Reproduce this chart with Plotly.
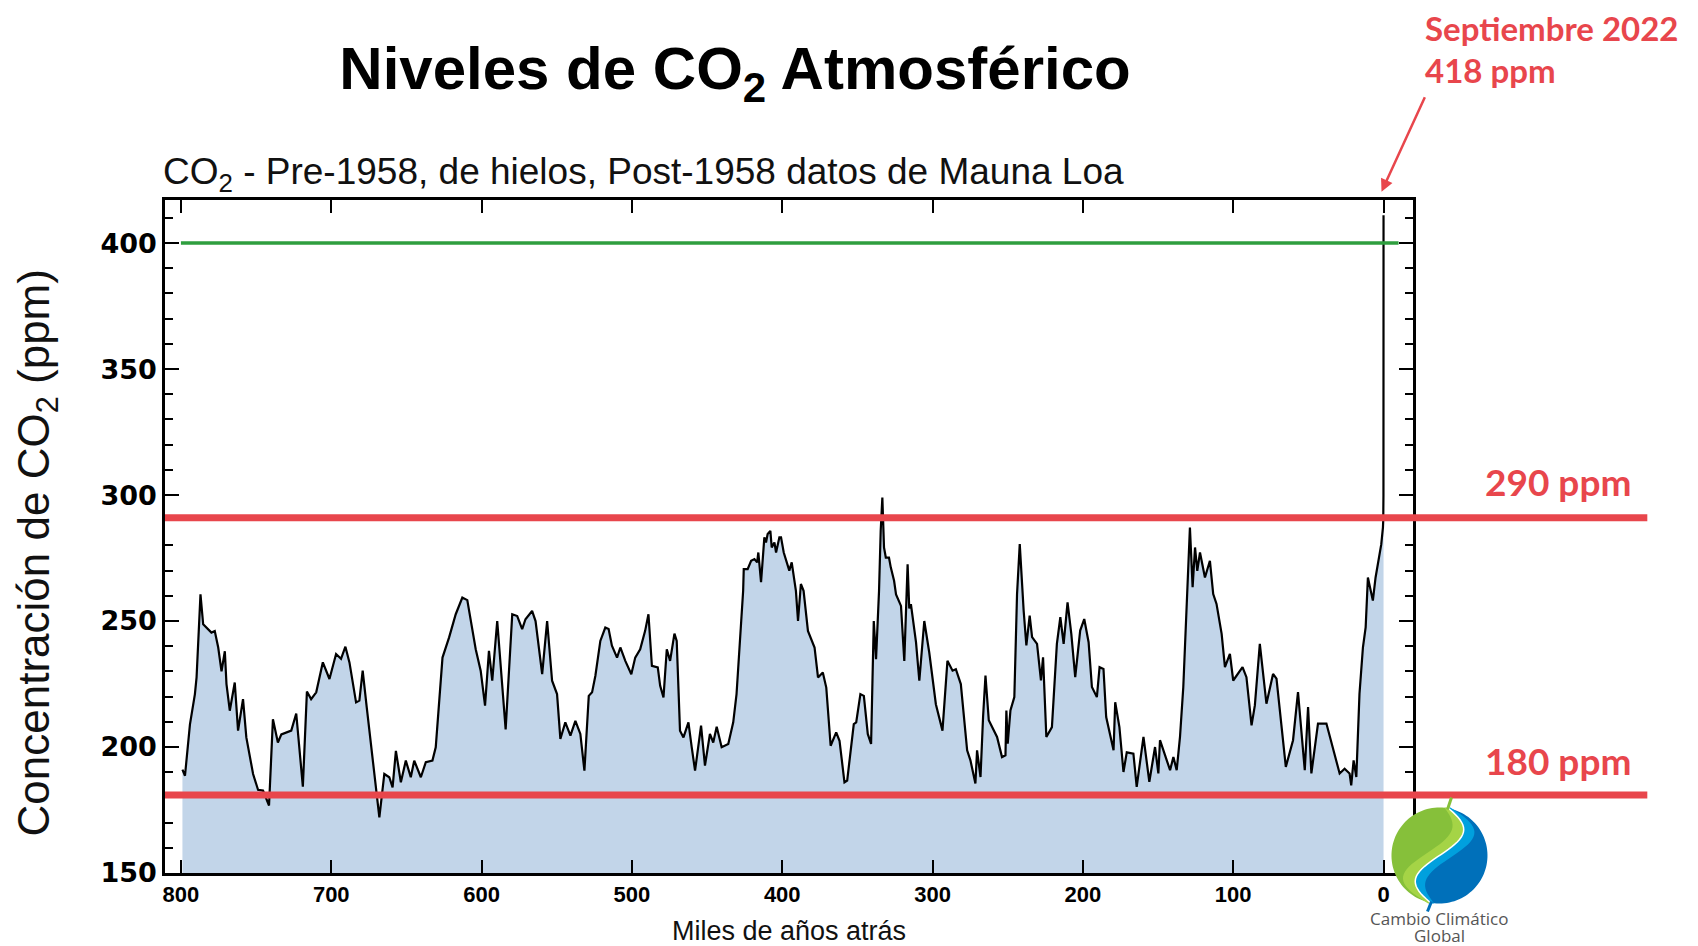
import numpy as np
import plotly.graph_objects as go

# ---------------- data (thousands of years ago, ppm) ----------------
ky_ago = [
    799, 797.3, 794, 790.7, 789.6, 787, 785.2, 783, 779.7, 777.5, 775.2, 773, 770.8, 769.7,
    767.5, 764.2, 762, 758.7, 756.5, 752, 748.7, 745.4, 741.4, 738.8, 735.5, 733.2, 726.6,
    723.3, 718.9, 716.2, 713.4, 710, 705.6, 701.2, 696.8, 693.5, 690.6, 687.9, 683.5, 681.3,
    679.1, 676.4, 672.5, 668, 664.7, 661.4, 659.2, 657, 653.7, 650.4, 647.1, 644.8, 640.4,
    637.1, 632.7, 630.5, 626, 621.6, 617.2, 612.8, 609.5, 603.9, 600.6, 597.7, 595.1, 592.9,
    589.6, 584, 579.6, 576.3, 573, 570.8, 566.4, 564.1, 559.7, 556.4, 553.1, 549.8, 547.6,
    544.3, 540.9, 537.6, 534.3, 531.6, 528.7, 526.5, 524.3, 521, 517.7, 515.5, 513.3, 509.9,
    507.7, 504.4, 500.4, 497.8, 494.5, 491.2, 489, 486.7, 482.8, 481.2, 479, 476.8, 474.6,
    471.7, 470.2, 468, 465.7, 462.4, 460.2, 458, 454, 451.4, 448.1, 445.9, 443.6, 440.3,
    435.9, 432.6, 430.4, 427, 426, 425.6, 423, 420.7, 418.5, 416.7, 415.9, 414.1, 411.9,
    410.8, 409.7, 407.9, 407, 405.2, 404.1, 401.9, 400.8, 399, 397.5, 395.3, 393.7, 392,
    390.9, 389.5, 387.6, 385.8, 382.9, 378.5, 376.2, 373, 370.7, 367.8, 364.1, 361.9, 358.6,
    356.8, 352.4, 350.8, 348, 345.7, 343.1, 340.9, 339.1, 337.6, 335.6, 334.5, 333.4, 332.3,
    331.1, 329, 327.8, 325.6, 324.3, 321, 318.8, 316.6, 315.5, 314.4, 311, 308.8, 305.5,
    302.2, 297.8, 293.4, 290.1, 286.7, 284.5, 281.2, 277, 274.8, 271.5, 270.4, 268.1, 266.4,
    264.8, 262.6, 260.4, 257.1, 253.8, 251.5, 250.9, 250, 248.2, 245.6, 243.8, 242, 239.4,
    237.6, 235.4, 233.8, 230.5, 227.9, 226.5, 224.3, 220.6, 217.3, 215, 212.8, 210.2, 207.7,
    205.1, 201.8, 199.1, 196.2, 194, 190.7, 188.9, 186.3, 184.5, 179.6, 178.5, 175.7, 173,
    170.8, 166.4, 164.2, 159.7, 155.8, 152, 149.8, 148.7, 142, 139.8, 137.6, 135.4, 133.2,
    128.8, 127, 125.4, 123.9, 122.1, 118.8, 115.5, 113.3, 111.1, 107.7, 105.5, 102.2, 100,
    93.8, 91.2, 87.8, 85.6, 82.3, 77.9, 73.5, 71.2, 65, 60.2, 56.9, 52.4, 50.2, 48, 43.6,
    38, 29.2, 25.9, 22.6, 21.5, 19.9, 18.1, 16, 13.7, 11.9, 10.4, 7.1, 5.3, 3.1, 1.5, 0.4,
    0.2, 0.05, 0.0,
]
co2_ppm = [
    191, 188.6, 209, 221, 227.6, 260.6, 248.7, 247.4, 245.4, 246, 239.5, 230, 238, 225,
    214.4, 225.6, 206.5, 219, 203.8, 189.3, 183, 182.7, 176.8, 211, 201.8, 205, 206.5,
    213.3, 184.3, 222, 219, 221.7, 233.6, 227, 236.9, 235, 239.8, 233.6, 217.7, 218.4,
    230.3, 215.7, 194.6, 172.1, 189.3, 188, 184, 198.5, 186, 194.6, 188, 194.6, 188,
    194, 194.6, 199.9, 235.5, 243.5, 252.7, 259.3, 258.3, 238.8, 230.3, 216.4, 238.2, 226.3,
    250, 207, 252.7, 252, 246.8, 250.7, 254, 250, 228.9, 250, 226.3, 221, 203.2,
    209.8, 204.5, 210.4, 205.2, 190.6, 220.3, 221.7, 228.3, 242.1, 247.4, 246.8, 240.2, 235.5,
    239.5, 234.2, 228.9, 235.5, 238.8, 246.1, 252.7, 232.2, 231.6, 224.3, 219.7, 238.8, 234.2,
    245, 242.1, 206.5, 203.8, 209.8, 199.9, 190.6, 208.5, 192.6, 205.2, 201.8, 208, 199.9,
    201.2, 209.8, 221, 250, 262, 270.6, 270.6, 273.9, 274.6, 273.3, 277.2, 265.4, 283.2,
    281.2, 284.5, 285.8, 279.2, 281.2, 277.2, 283.2, 283.2, 277.2, 273.9, 270, 273.3, 267.3,
    262, 250, 264.7, 262, 246.1, 239.5, 227.6, 229.6, 223.6, 200.5, 205.8, 202.5, 186,
    186.7, 209.1, 209.8, 221, 220.3, 205.2, 201.2, 250, 234.9, 262, 285.8, 299, 279.2,
    275.2, 275.2, 271.3, 266, 260.6, 256, 234.2, 272.5, 255, 256.7, 241.5, 226.3, 250,
    237.5, 217, 206.5, 234.2, 230.3, 230.9, 225, 198.7, 194.7, 185.5, 198.7, 188.1, 211.9,
    228.4, 210.6, 207.9, 204, 196, 196.7, 214.5, 201.3, 214.5, 219.8, 260.7, 280.5, 254.1,
    240.3, 252.1, 243.6, 240.9, 226.4, 235.6, 204, 207.9, 240.9, 251.5, 240.9, 257.4, 244.9,
    227.7, 246.2, 250.8, 241.6, 223.8, 219.8, 231.7, 231, 211.9, 198.7, 217.8, 207.9, 190.1,
    197.9, 197.4, 184.2, 204, 186.2, 200, 189.5, 202.7, 190.8, 196, 190.8, 204, 223.8,
    287.1, 263.4, 279.2, 269.9, 277.2, 267.3, 273.9, 260.7, 256.8, 244.9, 231.7, 237, 226.4,
    231.7, 227.7, 208.6, 216.5, 240.9, 217.2, 229, 227.1, 192.1, 202.7, 221.8, 190.8, 215.9, 189.5, 209.3,
    209.3, 189.5, 191.4, 189.5, 184.8, 194.7, 188.1, 221.1, 239.6, 247.5, 267.3, 258.1, 267.3, 275.2, 280.5, 287.1,
    290, 300, 411,
]

ref_levels = [181, 291]          # red reference lines (labelled 180 / 290 ppm)
ref_labels = ["180 ppm", "290 ppm"]
green_level = 400
x_ticks = [800, 700, 600, 500, 400, 300, 200, 100, 0]
y_ticks = [150, 200, 250, 300, 350, 400]

# ---------------- geometry helpers ----------------
# The page body has an 8px margin, so the figure starts at (8, 8) in the window.
OFF = 8
W, H = 1698 - OFF, 946 - OFF
FL, FR, FT, FB = 164.5, 1413.5, 200.3, 873     # plot frame in window pixels
ML, MT = FL - OFF, FT - OFF
MR, MB = (OFF + W) - FR, (OFF + H) - FB
PW, PH = FR - FL, FB - FT


def px(x):
    return (x - FL) / PW


def py(y):
    return (FB - y) / PH


RED = "rgb(232,70,76)"

fig = go.Figure()
fig.add_trace(go.Scatter(
    x=ky_ago, y=co2_ppm, mode="lines",
    line=dict(color="black", width=2.2),
    fill="tozeroy", fillcolor="rgb(194,213,233)",
    hoverinfo="x+y", showlegend=False,
))

shapes = []
shapes.append(dict(type="line", xref="x", yref="y", x0=800, x1=-10, y0=green_level, y1=green_level,
                   line=dict(color="rgb(46,158,62)", width=3.5), layer="above"))
for lv in ref_levels:
    shapes.append(dict(type="line", xref="paper", yref="y", x0=0, x1=px(1648), y0=lv, y1=lv,
                       line=dict(color=RED, width=7), layer="above"))

# ---------------- logo (decorative) ----------------
R = 48
cx, cy = px(1440), py(855.5)


def pathstr(pts):
    return "M " + " L ".join(f"{a:.2f},{b:.2f}" for a, b in pts) + " Z"


def s_curve(y):
    return 0.17 * y + 20 * np.sin(np.pi * y / 48)


ys = np.linspace(-48, 48, 40)
curve = [(s_curve(v), v) for v in ys]
a_top = np.degrees(np.arctan2(48, 8))
ang_g = np.radians(np.linspace(a_top, a_top + 180, 60))
green_pts = [(R * np.cos(t), R * np.sin(t)) for t in ang_g] + curve
ang_b = np.radians(np.linspace(a_top + 180, a_top + 360, 60))
blue_pts = [(R * np.cos(t), R * np.sin(t)) for t in ang_b] + curve[::-1]
lg_pts = curve[::-1] + [(s_curve(v) - 16 * np.cos(np.pi * v / 110), v) for v in ys]
lb_pts = curve[::-1] + [(s_curve(v) + 14 * np.cos(np.pi * v / 110), v) for v in ys]


def logo_shape(pts, color):
    return dict(type="path", xref="paper", yref="paper", xsizemode="pixel", ysizemode="pixel",
                xanchor=cx, yanchor=cy, path=pathstr(pts), fillcolor=color,
                line=dict(width=0, color=color), layer="above")


shapes.append(logo_shape(blue_pts, "rgb(0,112,186)"))
shapes.append(logo_shape(lb_pts, "rgb(0,160,222)"))
shapes.append(logo_shape(green_pts, "rgb(134,192,58)"))
shapes.append(logo_shape(lg_pts, "rgb(165,212,70)"))
shapes.append(dict(type="path", xref="paper", yref="paper", xsizemode="pixel", ysizemode="pixel",
                   xanchor=cx, yanchor=cy,
                   path="M " + " L ".join(f"{a:.2f},{b:.2f}" for a, b in curve),
                   line=dict(color="white", width=1.5), layer="above"))
shapes.append(dict(type="line", xref="paper", yref="paper", xsizemode="pixel", ysizemode="pixel",
                   xanchor=cx, yanchor=cy, x0=8, y0=46, x1=12, y1=58,
                   line=dict(color="rgb(134,192,58)", width=3), layer="above"))
shapes.append(dict(type="line", xref="paper", yref="paper", xsizemode="pixel", ysizemode="pixel",
                   xanchor=cx, yanchor=cy, x0=-8, y0=-46, x1=-12, y1=-56,
                   line=dict(color="rgb(0,112,186)", width=3), layer="above"))

annotations = [
    dict(text="CO<sub>2</sub> - Pre-1958, de hielos, Post-1958 datos de Mauna Loa",
         xref="paper", yref="paper", x=px(160), y=py(174), xanchor="left", yanchor="middle",
         showarrow=False, font=dict(family="Liberation Sans", size=37, color="#111")),
    dict(text="Concentración de CO<sub>2</sub> (ppm)", textangle=-90,
         xref="paper", yref="paper", x=px(36), y=py(553), xanchor="center", yanchor="middle",
         showarrow=False, font=dict(family="Liberation Sans", size=44, color="#111")),
    dict(text="Septiembre 2022", xref="paper", yref="paper", x=px(1424), y=py(28),
         xanchor="left", yanchor="middle", showarrow=False,
         font=dict(family="Lato", size=33, color=RED, weight="bold")),
    dict(text="418 ppm", xref="paper", yref="paper", x=px(1424), y=py(70),
         xanchor="left", yanchor="middle", showarrow=False,
         font=dict(family="Lato", size=33, color=RED, weight="bold")),
    dict(text="", xref="paper", yref="paper", x=px(1382), y=py(192), ax=44, ay=-96,
         showarrow=True, arrowhead=2, arrowsize=1, arrowwidth=2.5, arrowcolor=RED),
    dict(text="Cambio Climático", xref="paper", yref="paper", x=cx, y=py(918),
         xanchor="center", yanchor="middle", showarrow=False,
         font=dict(family="Open Sans", size=17, color="rgb(85,85,85)")),
    dict(text="Global", xref="paper", yref="paper", x=cx, y=py(935),
         xanchor="center", yanchor="middle", showarrow=False,
         font=dict(family="Open Sans", size=17, color="rgb(85,85,85)")),
]
for lv, lab, ypix in zip(ref_levels, ref_labels, [761, 482]):
    annotations.append(dict(text=lab, xref="paper", yref="paper", x=px(1634), y=py(ypix),
                            xanchor="right", yanchor="middle", showarrow=False,
                            font=dict(family="Lato", size=37, color=RED, weight="bold")))

fig.update_layout(
    width=W, height=H,
    margin=dict(l=ML, r=MR, t=MT, b=MB, autoexpand=False),
    paper_bgcolor="white", plot_bgcolor="white",
    title=dict(text="Niveles de CO<sub>2</sub> Atmosférico", x=(735 - OFF) / W, xref="container",
               xanchor="center", y=1 - (68 - OFF) / H, yref="container", yanchor="middle",
               font=dict(family="Liberation Sans", size=60, color="black", weight="bold")),
    shapes=shapes, annotations=annotations,
)
fig.update_xaxes(
    range=[810.6, -19.6], tickvals=x_ticks, ticktext=[str(v) for v in x_ticks],
    ticks="inside", ticklen=13, tickwidth=1.5, tickcolor="black",
    showline=True, linecolor="black", linewidth=2.5, mirror="ticks",
    showgrid=False, zeroline=False, ticklabelstandoff=0,
    tickfont=dict(family="Liberation Sans", size=22, color="black", weight="bold"),
    title=dict(text="Miles de años atrás", standoff=20,
               font=dict(family="Liberation Sans", size=27, color="#111")),
)
fig.update_yaxes(
    range=[150, 417.1], tickvals=y_ticks,
    ticks="inside", ticklen=14, tickwidth=1.5, tickcolor="black",
    minor=dict(dtick=10, ticks="inside", ticklen=8, tickwidth=1.5, tickcolor="black"),
    showline=True, linecolor="black", linewidth=2.5, mirror="ticks",
    showgrid=False, zeroline=False, ticklabelstandoff=0,
    tickfont=dict(family="DejaVu Sans", size=27, color="black", weight="bold"),
)

fig.write_html("out.html")
